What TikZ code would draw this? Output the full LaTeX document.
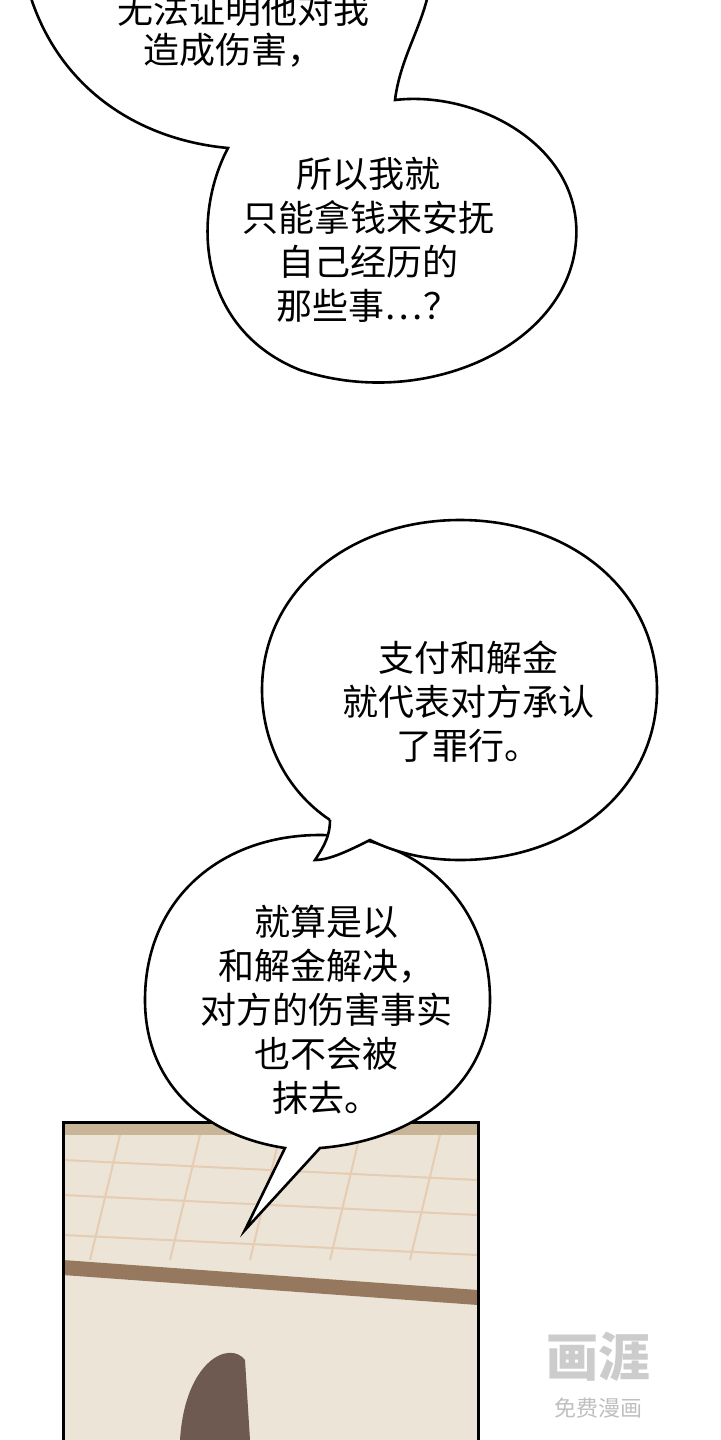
\documentclass[tikz,border=0pt]{standalone}
\usepackage{fontspec}
\newfontfamily\cjk{Noto Sans CJK SC}
\begin{document}
\begin{tikzpicture}[x=0.5pt,y=-0.5pt,
  bub/.style={draw=black,line width=1.3pt,fill=white},
  txt/.style={font=\cjk\fontsize{18}{22}\selectfont,align=center,inner sep=0},
  beam/.style={draw=brown!60!black,line width=1pt}]
\useasboundingbox (0,0) rectangle (720,1440);
\fill[white] (0,0) rectangle (720,1440);
% panel
\fill[fill={rgb,255:red,236;green,228;blue,214}] (63,1122) rectangle (478,1440);
\fill[fill={rgb,255:red,200;green,180;blue,150}] (63,1122) rectangle (478,1135);
\foreach \y in {1160,1195,1235}{\draw[beam,draw=brown!40] (63,\y) -- (478,\y+20);}
\foreach \x in {120,200,280,360,440}{\draw[beam,draw=brown!40] (\x,1135) -- (\x-30,1260);}
\fill[fill={rgb,255:red,150;green,120;blue,95}] (63,1260) -- (478,1290) -- (478,1305) -- (63,1275) -- cycle;
\fill[fill={rgb,255:red,110;green,90;blue,80}] (180,1440) .. controls (185,1360) and (230,1340) .. (245,1360) -- (250,1440) -- cycle;
\draw[line width=1.5pt] (63,1440) -- (63,1122) -- (478,1122) -- (478,1440);
% top bubble
\draw[bub] (30,-5) .. controls (60,90) and (140,140) .. (228,148)
  .. controls (190,220) and (200,330) .. (300,370)
  .. controls (420,410) and (560,350) .. (575,250)
  .. controls (590,150) and (480,90) .. (395,100)
  .. controls (400,60) and (420,30) .. (428,-5);
\node[txt] (t1) at (243,10) {无法证明他对我};
\node[txt] (t2) at (233,50) {造成伤害，};
\node[txt] (t3) at (368,240) {所以我就\\只能拿钱来安抚\\自己经历的\\那些事…？};
% lower bubble
\draw[bub] (285,1148) .. controls (200,1135) and (145,1080) .. (145,1000)
  .. controls (145,900) and (220,835) .. (320,835)
  .. controls (420,835) and (490,905) .. (490,1000)
  .. controls (490,1080) and (420,1140) .. (320,1148)
  -- (245,1230) -- cycle;
% middle bubble
\draw[bub] (330,820) .. controls (285,790) and (262,740) .. (262,690)
  .. controls (262,590) and (350,520) .. (460,520)
  .. controls (570,520) and (657,590) .. (657,690)
  .. controls (657,790) and (570,860) .. (460,860)
  .. controls (420,860) and (390,850) .. (370,840)
  .. controls (350,850) and (330,860) .. (315,860)
  .. controls (325,845) and (330,835) .. (330,820);
\node[txt] (m) at (468,702) {支付和解金\\就代表对方承认\\了罪行。};
\node[txt] (l) at (326,1010) {就算是以\\和解金解决，\\对方的伤害事实\\也不会被\\抹去。};
% logo
\node[font=\cjk\bfseries\fontsize{26}{26}\selectfont,text=gray!40] (lg1) at (598,1357) {画涯};
\node[font=\cjk\fontsize{11}{11}\selectfont,text=gray!50] (lg2) at (598,1408) {免费漫画};
\end{tikzpicture}
\end{document}
